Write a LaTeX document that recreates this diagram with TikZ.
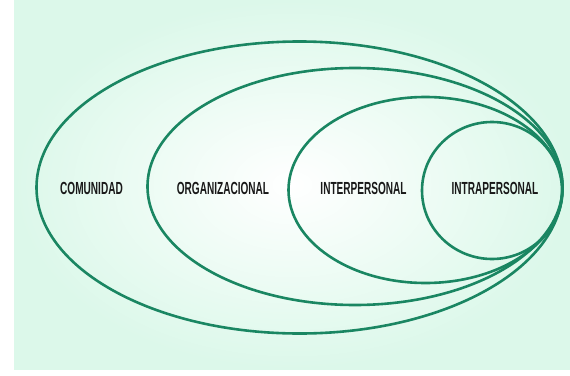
\documentclass[tikz,border=0pt]{standalone}
\usepackage{fontspec}
\newfontfamily\labfont{Liberation Sans}[FakeStretch=0.575]
\definecolor{ring}{RGB}{26,134,98}
\definecolor{mint}{RGB}{220,248,234}
\definecolor{ink}{RGB}{25,25,25}
\tikzset{
  ringline/.style={draw=ring, line width=2.6pt},
  lab/.style={font=\labfont\bfseries\fontsize{17.5}{19}\selectfont, text=ink, inner sep=0pt}
}
\begin{document}
\begin{tikzpicture}[x=1pt,y=-1pt]
\useasboundingbox (0,0) rectangle (570,375);
\shade[inner color=white, outer color=mint] (14,0) rectangle (570,369);
\draw[ringline] (299.5,187.5) ellipse [x radius=263, y radius=146];
\draw[ringline] (355,186.5) ellipse [x radius=207.5, y radius=118.5];
\draw[ringline] (425.5,190) ellipse [x radius=137, y radius=93];
\draw[ringline] (492,190.5) ellipse [x radius=70, y radius=68.5];
\node[lab] (comunidad) at (91.5,188) {COMUNIDAD};
\node[lab] (organizacional) at (223,188) {ORGANIZACIONAL};
\node[lab] (interpersonal) at (363.5,188) {INTERPERSONAL};
\node[lab] (intrapersonal) at (495,188) {INTRAPERSONAL};
\end{tikzpicture}
\end{document}
